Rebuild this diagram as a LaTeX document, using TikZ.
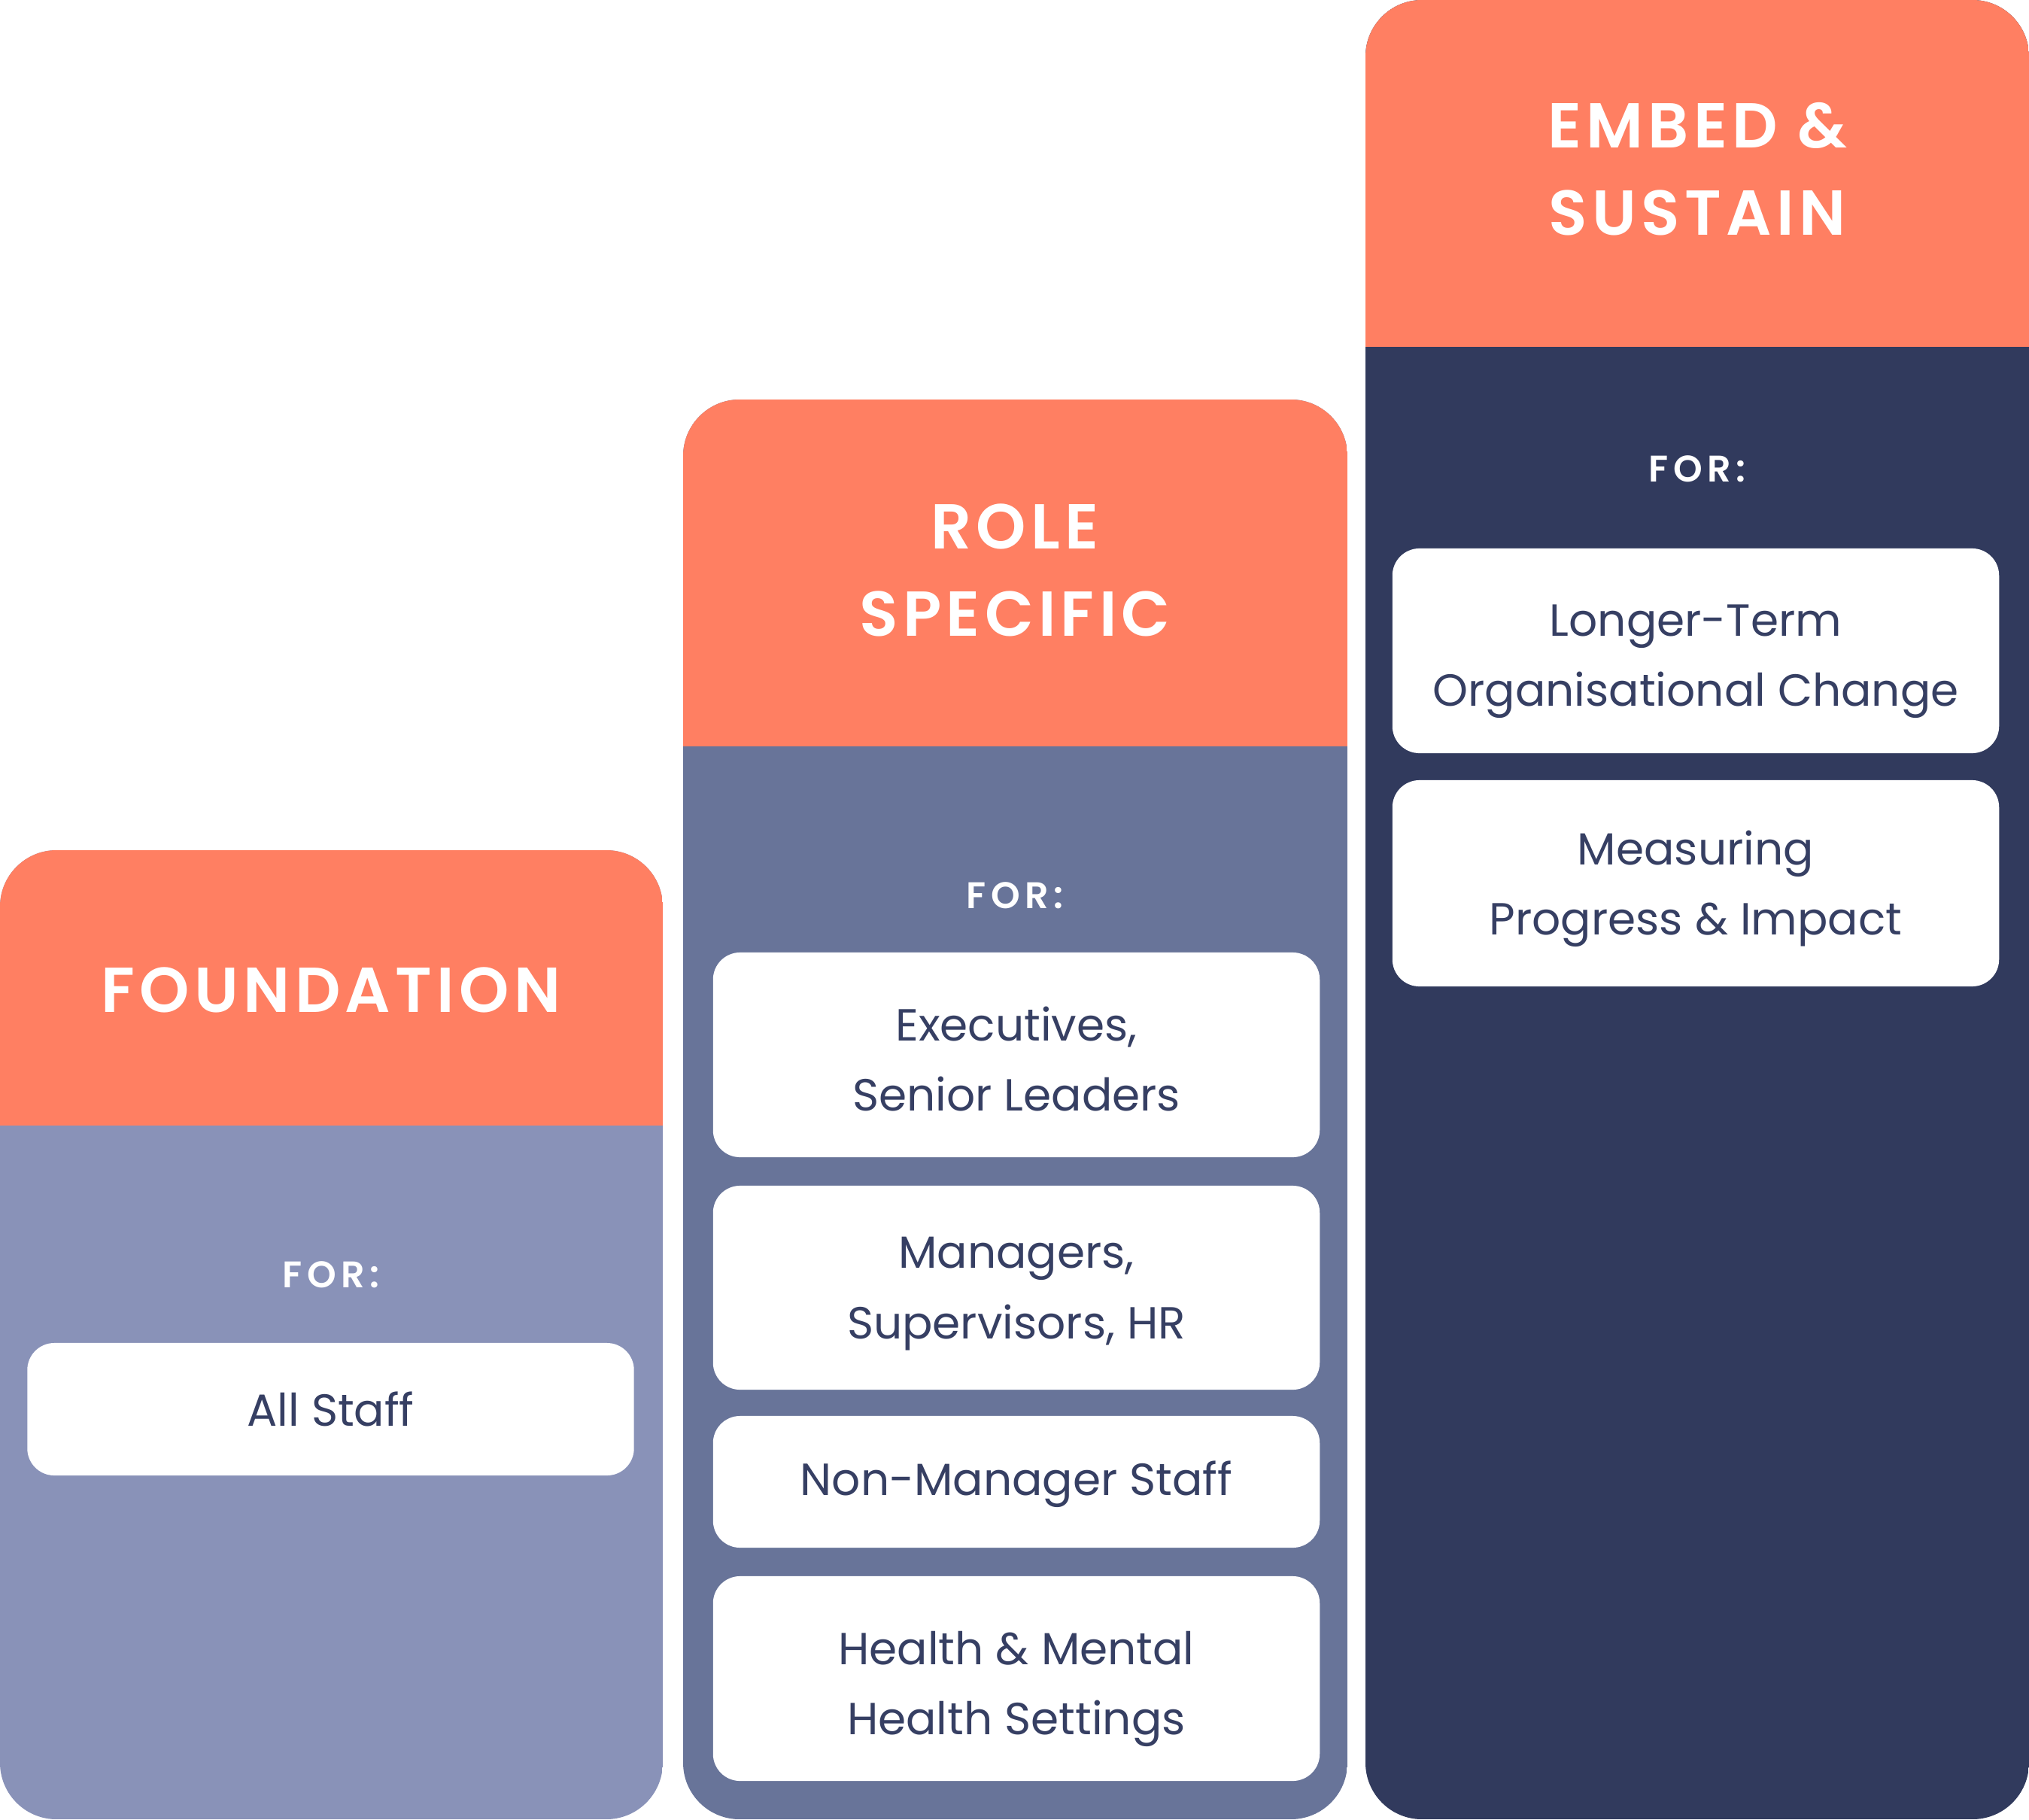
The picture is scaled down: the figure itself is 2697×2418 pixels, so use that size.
\documentclass[tikz,border=0pt]{standalone}
\usepackage{fontspec}
\setmainfont{Poppins}
\newfontfamily\titlefont{Poppins SemiBold}[LetterSpace=7.5]
\newfontfamily\forfont{Poppins SemiBold}[LetterSpace=13]
\definecolor{coral}{HTML}{FF7F62}
\definecolor{colA}{HTML}{8992B8}
\definecolor{colB}{HTML}{687499}
\definecolor{colC}{HTML}{313A5D}
\definecolor{ink}{HTML}{363F63}
\begin{document}
\begin{tikzpicture}[x=0.01cm,y=-0.01cm,
  titletext/.style={text=white, font=\titlefont\fontsize{24}{33}\selectfont, align=center, inner sep=0},
  forlabel/.style={text=white, font=\forfont\fontsize{14}{16}\selectfont, inner sep=0},
  itembox/.style={fill=white, rounded corners=0.36cm, minimum width=8.06cm, inner sep=0},
  itemtext/.style={text=ink, font=\fontsize{17}{26.5}\selectfont, align=center, inner sep=0},
  twoline/.style={itemtext, yshift=-0.14cm},
  colshape/.style={rounded corners=0.75cm}]
\useasboundingbox (0,0) rectangle (2697,2418);

% Column 1
\begin{scope}
  \clip[colshape] (0,1130) rectangle (881,2418);
  \fill[colA] (0,1130) rectangle (881,2418);
  \fill[coral] (0,1130) rectangle (881,1496);
\end{scope}
% Column 2
\begin{scope}
  \clip[colshape] (908,531) rectangle (1791,2418);
  \fill[colB] (908,531) rectangle (1791,2418);
  \fill[coral] (908,531) rectangle (1791,992);
\end{scope}
% Column 3
\begin{scope}
  \clip[colshape] (1815,0) rectangle (2697,2418);
  \fill[colC] (1815,0) rectangle (2697,2418);
  \fill[coral] (1815,0) rectangle (2697,461);
\end{scope}

% Titles
\node[titletext] (t1) at (440,1316) {FOUNDATION};
\node[titletext] (t2) at (1349,758) {ROLE\\SPECIFIC};
\node[titletext] (t3) at (2256,225) {EMBED \&\\SUSTAIN};

% FOR labels
\node[forlabel] (f1) at (440,1694) {FOR:};
\node[forlabel] (f2) at (1349,1190) {FOR:};
\node[forlabel] (f3) at (2256,623) {FOR:};

% Item boxes
\node[itembox, minimum height=1.76cm] (a1) at (439.5,1873) {};
\node[itembox, minimum height=2.72cm] (b1) at (1351,1402) {};
\node[itembox, minimum height=2.71cm] (b2) at (1351,1711.5) {};
\node[itembox, minimum height=1.75cm] (b3) at (1351,1969.5) {};
\node[itembox, minimum height=2.72cm] (b4) at (1351,2231) {};
\node[itembox, minimum height=2.72cm] (c1) at (2254,865) {};
\node[itembox, minimum height=2.74cm] (c2) at (2254,1174) {};

% Item texts
\node[itemtext] (a1t) at (a1) {All Staff};
\node[twoline, yshift=0.086cm] (b1t) at (b1) {Executives,\\Senior Leaders};
\node[twoline, yshift=0.06cm] (b2t) at (b2) {Managers,\\Supervisors, HR};
\node[itemtext, yshift=-0.03cm] (b3t) at (b3) {Non-Manager Staff};
\node[twoline] (b4t) at (b4) {Health \& Mental\\Health Settings};
\node[twoline] (c1t) at (c1) {Longer-Term\\Organisational Change};
\node[twoline, yshift=0.07cm] (c2t) at (c2) {Measuring\\Progress \& Impact};
\end{tikzpicture}
\end{document}
